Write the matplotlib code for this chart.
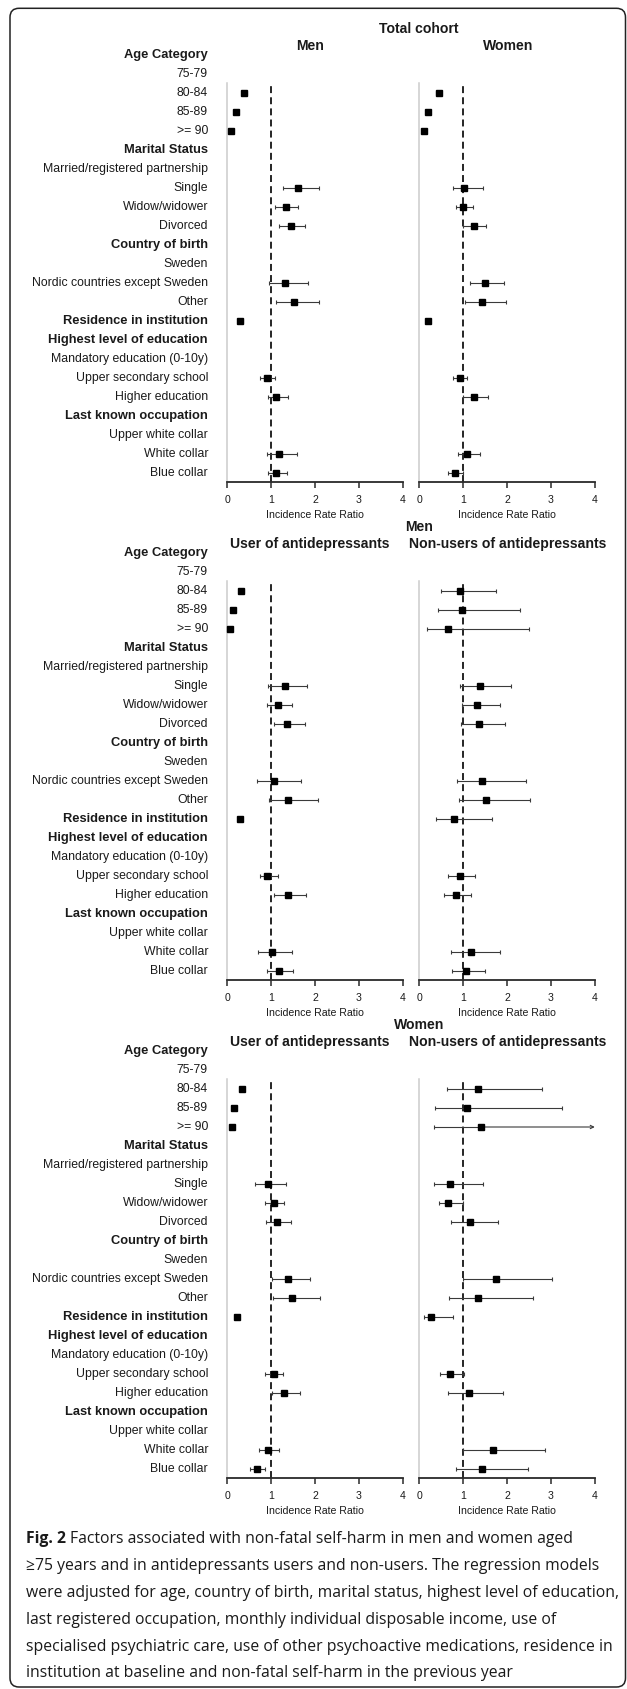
import numpy as np
import matplotlib
matplotlib.use("Agg")
import matplotlib.pyplot as plt
from matplotlib import font_manager
from matplotlib.patches import FancyBboxPatch
from matplotlib.transforms import IdentityTransform, blended_transform_factory

# ---------------- data ----------------
row_labels = ["Age Category", "75-79", "80-84", "85-89", ">= 90",
              "Marital Status", "Married/registered partnership", "Single",
              "Widow/widower", "Divorced", "Country of birth", "Sweden",
              "Nordic countries except Sweden", "Other", "Residence in institution",
              "Highest level of education", "Mandatory education (0-10y)",
              "Upper secondary school", "Higher education", "Last known occupation",
              "Upper white collar", "White collar", "Blue collar"]
header_labels = ["Age Category", "Marital Status", "Country of birth",
                 "Residence in institution", "Highest level of education",
                 "Last known occupation"]
estimate_labels = ["80-84", "85-89", ">= 90", "Single", "Widow/widower", "Divorced",
                   "Nordic countries except Sweden", "Other", "Residence in institution",
                   "Upper secondary school", "Higher education", "White collar", "Blue collar"]

x_ticks = [0, 1, 2, 3, 4]
x_label = "Incidence Rate Ratio"

total_men_irr = [0.38, 0.19, 0.08, 1.61, 1.33, 1.45, 1.31, 1.52, 0.29, 0.90, 1.12, 1.19, 1.12]
total_men_lo  = [0.33, 0.16, 0.06, 1.27, 1.09, 1.17, 0.95, 1.11, 0.24, 0.75, 0.93, 0.90, 0.93]
total_men_hi  = [0.44, 0.23, 0.11, 2.09, 1.62, 1.78, 1.84, 2.08, 0.36, 1.10, 1.38, 1.58, 1.37]

total_women_irr = [0.44, 0.20, 0.11, 1.03, 1.00, 1.24, 1.49, 1.44, 0.20, 0.93, 1.25, 1.10, 0.81]
total_women_lo  = [0.39, 0.17, 0.08, 0.76, 0.84, 1.00, 1.16, 1.05, 0.17, 0.77, 1.00, 0.89, 0.66]
total_women_hi  = [0.49, 0.24, 0.13, 1.45, 1.22, 1.53, 1.94, 1.97, 0.23, 1.08, 1.57, 1.38, 0.99]

men_users_irr = [0.32, 0.13, 0.06, 1.31, 1.15, 1.37, 1.07, 1.39, 0.29, 0.90, 1.38, 1.03, 1.17]
men_users_lo  = [0.27, 0.11, 0.05, 0.94, 0.90, 1.06, 0.68, 0.95, 0.25, 0.74, 1.07, 0.71, 0.91]
men_users_hi  = [0.38, 0.16, 0.08, 1.82, 1.47, 1.78, 1.69, 2.06, 0.34, 1.16, 1.79, 1.48, 1.51]

men_nonusers_irr = [0.94, 0.98, 0.66, 1.38, 1.32, 1.37, 1.44, 1.52, 0.79, 0.93, 0.83, 1.17, 1.07]
men_nonusers_lo  = [0.50, 0.43, 0.18, 0.92, 0.97, 0.95, 0.85, 0.91, 0.38, 0.66, 0.57, 0.73, 0.74]
men_nonusers_hi  = [1.75, 2.29, 2.50, 2.08, 1.84, 1.96, 2.43, 2.52, 1.66, 1.28, 1.17, 1.84, 1.50]

women_users_irr = [0.34, 0.15, 0.10, 0.93, 1.07, 1.13, 1.39, 1.48, 0.23, 1.07, 1.30, 0.94, 0.68]
women_users_lo  = [0.30, 0.13, 0.08, 0.64, 0.86, 0.88, 1.02, 1.05, 0.19, 0.87, 1.01, 0.73, 0.53]
women_users_hi  = [0.38, 0.18, 0.12, 1.34, 1.30, 1.45, 1.89, 2.11, 0.27, 1.27, 1.66, 1.17, 0.86]

women_nonusers_irr = [1.34, 1.08, 1.41, 0.70, 0.66, 1.15, 1.75, 1.34, 0.26, 0.71, 1.13, 1.68, 1.44]
women_nonusers_lo  = [0.64, 0.36, 0.33, 0.34, 0.44, 0.73, 1.00, 0.69, 0.10, 0.48, 0.66, 1.00, 0.84]
women_nonusers_hi  = [2.79, 3.26, 4.60, 1.45, 0.99, 1.80, 3.03, 2.60, 0.78, 1.03, 1.90, 2.87, 2.47]

group_titles = ["Total cohort", "Men", "Women"]
column_titles = [["Men", "Women"],
                 ["User of antidepressants", "Non-users of antidepressants"],
                 ["User of antidepressants", "Non-users of antidepressants"]]
series = [[(total_men_irr, total_men_lo, total_men_hi),
           (total_women_irr, total_women_lo, total_women_hi)],
          [(men_users_irr, men_users_lo, men_users_hi),
           (men_nonusers_irr, men_nonusers_lo, men_nonusers_hi)],
          [(women_users_irr, women_users_lo, women_users_hi),
           (women_nonusers_irr, women_nonusers_lo, women_nonusers_hi)]]

caption_bold = "Fig. 2"
caption_lines = [
    "Factors associated with non-fatal self-harm in men and women aged",
    "\u226575 years and in antidepressants users and non-users. The regression models",
    "were adjusted for age, country of birth, marital status, highest level of education,",
    "last registered occupation, monthly individual disposable income, use of",
    "specialised psychiatric care, use of other psychoactive medications, residence in",
    "institution at baseline and non-fatal self-harm in the previous year",
]

# ---------------- layout (pixels) ----------------
W, H = 627, 1689
DPI = 100
header_y = [55.0, 553.3, 1051.0]
row_step = 19.0
ax_top_off = 28.0
ax_bot_off = 427.0
col_x = [(227.2, 402.8), (419.2, 594.8)]
label_right = 208.0
TEXT = "#1a1a1a"

plt.rcParams["font.family"] = ["Liberation Sans", "DejaVu Sans"]
plt.rcParams["lines.scale_dashes"] = False

fig = plt.figure(figsize=(W / DPI, H / DPI), dpi=DPI)


def fx(x):
    return x / W


def fy(y):
    return 1 - y / H


for p in range(3):
    hy = header_y[p]
    top = hy + ax_top_off
    bot = hy + ax_bot_off
    fig.text(fx(419.0), fy(hy - 26.3), group_titles[p], ha="center", va="center",
             fontsize=10.1, fontweight="bold", color=TEXT)
    for c in range(2):
        x0, x1 = col_x[c]
        ax = fig.add_axes([fx(x0), fy(bot), (x1 - x0) / W, (bot - top) / H])
        ax.set_xlim(0, 4)
        ax.set_ylim(ax_bot_off / row_step, ax_top_off / row_step)
        ax.patch.set_alpha(0)
        for s in ("top", "right"):
            ax.spines[s].set_visible(False)
        ax.spines["left"].set_color("#cccccc")
        ax.spines["left"].set_linewidth(1.1)
        ax.spines["bottom"].set_color("#2a2a2a")
        ax.spines["bottom"].set_linewidth(1.3)
        ax.set_yticks([])
        ax.set_xticks(x_ticks)
        ax.set_xticklabels([str(t) for t in x_ticks])
        ax.tick_params(axis="x", direction="out", length=4.3, width=1.1,
                       color="#2a2a2a", labelsize=7.6, pad=5.2, labelcolor=TEXT)
        ax.axvline(1, color="black", lw=1.2, ls=(0, (5, 3)), zorder=1)
        ax.annotate(x_label, xy=(0.5, 0), xycoords="axes fraction",
                    xytext=(0, -32.6 * 0.72), textcoords="offset points",
                    ha="center", va="center", fontsize=7.6, color=TEXT)

        irr, lo, hi = [np.array(v, dtype=float) for v in series[p][c]]
        rows = np.array([row_labels.index(l) for l in estimate_labels], dtype=float)
        xmax = ax.get_xlim()[1]
        normal = hi <= xmax
        ax.errorbar(irr[normal], rows[normal],
                    xerr=[irr[normal] - lo[normal], hi[normal] - irr[normal]],
                    fmt="s", color="black", ms=5.0, ecolor="#3a3a3a",
                    elinewidth=0.8, capsize=1.7, capthick=0.8, clip_on=False, zorder=3)
        for i in np.where(~normal)[0]:
            ax.errorbar([irr[i]], [rows[i]], xerr=[[irr[i] - lo[i]], [0]],
                        fmt="s", color="black", ms=5.0, ecolor="#3a3a3a",
                        elinewidth=0.8, capsize=1.7, capthick=0.8, clip_on=False, zorder=3)
            ax.annotate("", xy=(xmax, rows[i]), xytext=(irr[i], rows[i]),
                        arrowprops=dict(arrowstyle="->", color="#3a3a3a", lw=0.8,
                                        shrinkA=0, shrinkB=0, mutation_scale=6),
                        zorder=2)

        if c == 0:
            tr = blended_transform_factory(fig.transFigure, ax.transData)
            for r, lab in enumerate(row_labels):
                bold = lab in header_labels
                ax.text(fx(label_right), r, lab, transform=tr, ha="right", va="center",
                        fontsize=9.3 if bold else 8.8,
                        fontweight="bold" if bold else "normal",
                        color=TEXT, clip_on=False)
        fig.text(fx((x0 + x1) / 2 - 5 if c == 0 else (x0 + x1) / 2 + 1), fy(hy - 9.2),
                 column_titles[p][c], ha="center", va="center", fontsize=10.1,
                 fontweight="bold", color=TEXT)

# ---------------- caption ----------------
def has_font(name):
    try:
        font_manager.findfont(font_manager.FontProperties(family=name),
                              fallback_to_default=False)
        return True
    except Exception:
        return False


cap_family = None
for name in ["Liberation Sans Narrow", "Open Sans", "Lato"]:
    if has_font(name):
        cap_family = name
        break
cap_fam = [cap_family, "DejaVu Sans"] if cap_family else ["DejaVu Sans"]

renderer = fig.canvas.get_renderer()
probe = fig.text(0, 0, caption_lines[2], fontsize=10, family=cap_fam)
wprobe = probe.get_window_extent(renderer).width
probe.remove()
cap_size = 10 * 590.0 / wprobe

cap_x = 26.0
cap_y = [1539, 1566, 1593, 1620, 1647, 1673]
tb = fig.text(fx(cap_x), fy(cap_y[0]), caption_bold, fontsize=cap_size, family=cap_fam,
              fontweight="bold", ha="left", va="center", color=TEXT)
bw = tb.get_window_extent(renderer).width
sp = cap_size * 0.28 / 0.72
fig.text(fx(cap_x + bw + sp), fy(cap_y[0]), caption_lines[0], fontsize=cap_size,
         family=cap_fam, ha="left", va="center", color=TEXT)
for yy, line in zip(cap_y[1:], caption_lines[1:]):
    fig.text(fx(cap_x), fy(yy), line, fontsize=cap_size, family=cap_fam,
             ha="left", va="center", color=TEXT)

# ---------------- frame ----------------
frame = FancyBboxPatch((10.0, H - 1687.0), 615.5, 1687.0 - 8.3,
                       boxstyle="round,pad=0,rounding_size=9",
                       transform=IdentityTransform(), fill=False,
                       edgecolor="#222222", linewidth=1.1)
fig.add_artist(frame)

fig.savefig("out.png", dpi=DPI)
print("caption font:", cap_family, round(cap_size, 2))
